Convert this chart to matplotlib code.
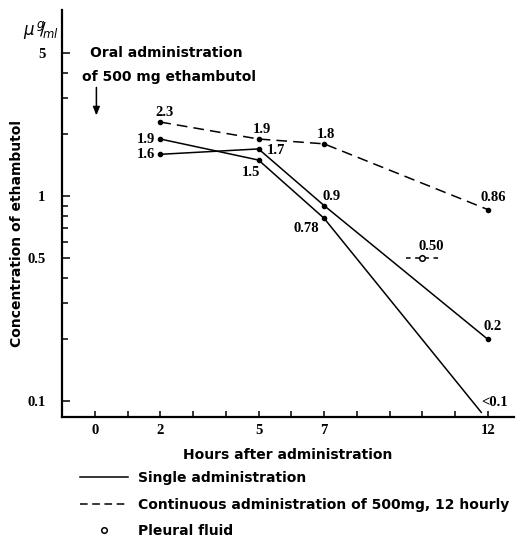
import matplotlib
matplotlib.use("Agg")
import matplotlib.pyplot as plt
from matplotlib.lines import Line2D
from matplotlib.ticker import FixedLocator, NullFormatter

# data
single_a_hours = [2, 5, 7, 11.8]
single_a_conc = [1.9, 1.5, 0.78, 0.088]
single_b_hours = [2, 5, 7, 12]
single_b_conc = [1.6, 1.7, 0.9, 0.2]
cont_hours = [2, 5, 7, 12]
cont_conc = [2.3, 1.9, 1.8, 0.86]
pleural_hour = 10
pleural_conc = 0.5
pleural_span = [9.5, 10.5]

x_major = [0, 2, 5, 7, 12]
y_major = [0.1, 0.5, 1, 5]
y_minor = [0.2, 0.3, 0.4, 0.6, 0.7, 0.8, 0.9, 2, 3, 4]

# value labels: (text, hour, conc, dx px, dy px)
value_labels = [
    ("2.3", 2, 2.3, 4, 10),
    ("1.9", 2, 1.9, -14, 0),
    ("1.6", 2, 1.6, -14, 0),
    ("1.9", 5, 1.9, 3, 10),
    ("1.7", 5, 1.7, 17, -2),
    ("1.5", 5, 1.5, -8, -12),
    ("1.8", 7, 1.8, 2, 9),
    ("0.9", 7, 0.9, 8, 9),
    ("0.78", 7, 0.78, -18, -10),
    ("0.86", 12, 0.86, 5, 12),
    ("0.50", pleural_hour, pleural_conc, 9, 11),
    ("0.2", 12, 0.2, 5, 13),
    ("<0.1", 12, 0.1, 7, -2),
]

num_font = dict(family="Liberation Serif", weight="bold", size=10.5)
txt_font = dict(family="DejaVu Sans", weight="bold", size=10)

fig = plt.figure(figsize=(5.18, 5.39), dpi=100)
ax = fig.add_axes([0.1197, 0.2263, 0.8726, 0.7551])

ax.plot(single_a_hours[:-1], single_a_conc[:-1], "o", color="black", ms=3)
ax.plot(single_a_hours, single_a_conc, "-", color="black", lw=1.1)
ax.plot(single_b_hours, single_b_conc, "-o", color="black", lw=1.1, ms=3)
ax.plot(cont_hours, cont_conc, "--o", color="black", lw=1.1, ms=3, dashes=(7, 4))
ax.plot(pleural_span, [pleural_conc, pleural_conc], "--", color="black", lw=1.1, dashes=(3, 3))
ax.plot([pleural_hour], [pleural_conc], "o", mfc="white", mec="black", ms=4, mew=1.1)

ax.set_yscale("log")
ax.set_xlim(-1, 12.8)
ax.set_ylim(0.0835, 8.1)

ax.xaxis.set_major_locator(FixedLocator(x_major))
ax.xaxis.set_minor_locator(FixedLocator([h for h in range(0, 13) if h not in x_major]))
ax.yaxis.set_major_locator(FixedLocator(y_major))
ax.yaxis.set_minor_locator(FixedLocator(y_minor))
ax.yaxis.set_minor_formatter(NullFormatter())
ax.set_xticklabels([str(v) for v in x_major], **num_font)
ax.set_yticklabels([str(v) for v in y_major], **num_font)

ax.tick_params(axis="both", which="both", direction="in", width=1.1, colors="black")
ax.tick_params(axis="x", which="both", length=4, pad=5)
ax.tick_params(axis="y", which="major", length=6, pad=12)
ax.tick_params(axis="y", which="minor", length=4)

for side in ["top", "right"]:
    ax.spines[side].set_visible(False)
for side in ["left", "bottom"]:
    ax.spines[side].set_linewidth(1.6)

for text, h, c, dx, dy in value_labels:
    ax.annotate(text, (h, c), xytext=(dx, dy), textcoords="offset pixels",
                ha="center", va="center", **num_font)

ax.text(-0.15, 5.0, "Oral administration", ha="left", va="center", **txt_font)
ax.text(-0.4, 3.8, "of 500 mg ethambutol", ha="left", va="center", **txt_font)
ax.annotate("", xy=(0.05, 2.4), xytext=(0.05, 3.5),
            arrowprops=dict(arrowstyle="-|>,head_width=0.2,head_length=0.5",
                            color="black", lw=1.1))

ax.set_xlabel("Hours after administration", labelpad=8, **txt_font)
ax.set_ylabel("Concentration of ethambutol", labelpad=4, **txt_font)
ax.yaxis.set_label_coords(-0.083, 0.45)
fig.text(0.045, 0.935, r"$\mu\,{}^{g}\!\!/\!_{ml}$", fontsize=12, fontweight="bold")

handles = [
    Line2D([], [], color="black", lw=1.1),
    Line2D([], [], color="black", lw=1.1, ls="--", dashes=(5, 3)),
    Line2D([], [], ls="none", marker="o", mfc="white", mec="black", ms=4, mew=1.1),
]
labels = [
    "Single administration",
    "Continuous administration of 500mg, 12 hourly",
    "Pleural fluid",
]
fig.legend(handles, labels, loc="upper left", bbox_to_anchor=(0.154, 0.1255),
           frameon=False, borderpad=0, borderaxespad=0, handlelength=3.45,
           handletextpad=0.72, labelspacing=0.88,
           prop=dict(family="DejaVu Sans", weight="bold", size=10))

fig.savefig("out.png", dpi=100)
